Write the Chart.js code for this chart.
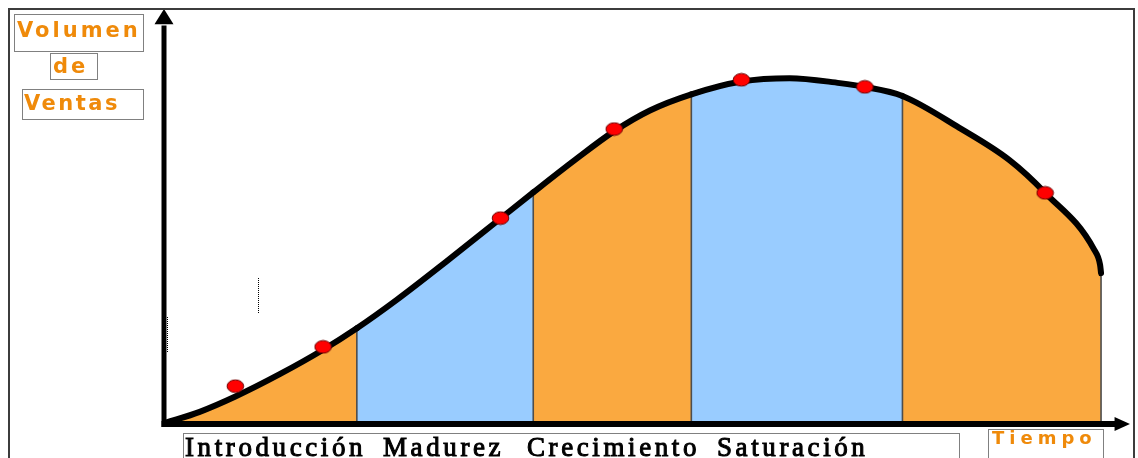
<!DOCTYPE html>
<html>
<head>
<meta charset="utf-8">
<script src="https://cdn.jsdelivr.net/npm/chart.js@4/dist/chart.umd.min.js"></script>
<style>
  html, body { margin: 0; padding: 0; background: #fff; }
  canvas { display: block; }
</style>
</head>
<body>
<canvas id="ciclo" width="1138" height="458"></canvas>
<script>
// Product life-cycle curve: sales volume over time (0-100 on both axes)
const tiempo  = [0, 3.6, 7.3, 11.9, 16.4, 19.9, 24.0, 29.5, 34.8, 38.2, 42.5, 46.6, 50.3, 54.6,
                 59.8, 64.8, 70.0, 72.6, 76.5, 82.4, 87.6, 91.3, 96.4, 97.0, 97.1];
const volumen = [0, 2.7, 6.4, 11.8, 17.7, 22.9, 29.7, 39.6, 49.4, 55.7, 63.5, 70.5, 75.5, 79.4,
                 82.5, 83.3, 82.1, 81.2, 79.0, 71.3, 63.5, 55.6, 41.8, 38.2, 36.2];

// Marked observations along the curve
const puntosTiempo  = [7.3, 16.4, 34.8, 46.6, 59.8, 72.6, 91.3];
const puntosVolumen = [8.9, 18.4, 49.5, 71.0, 82.9, 81.2, 55.6];

// Stage boundaries on the time axis and their fill colours
const limitesEtapas = [0, 19.9, 38.2, 54.6, 76.5, 97.1];
const coloresEtapas = ['#FAA940', '#99CCFF', '#FAA940', '#99CCFF', '#FAA940'];

// Stage names written under the time axis
const etapas = ['Introducción', 'Madurez', 'Crecimiento', 'Saturación'];
const etapasX = [185, 383, 527, 717];

const ejeY = ['Volumen', 'de', 'Ventas'];
const ejeX = 'Tiempo';

function colorEtapa(x) {
  for (let i = 0; i < coloresEtapas.length; i++) {
    if (x >= limitesEtapas[i] - 1e-6 && x < limitesEtapas[i + 1] - 1e-6) return coloresEtapas[i];
  }
  return coloresEtapas[coloresEtapas.length - 1];
}

// Red oval marker
const marcador = document.createElement('canvas');
marcador.width = 19; marcador.height = 15;
(function () {
  const g = marcador.getContext('2d');
  g.beginPath();
  g.ellipse(9.5, 7.5, 8.3, 6.3, 0, 0, Math.PI * 2);
  g.fillStyle = '#FF0000';
  g.fill();
  g.lineWidth = 1;
  g.strokeStyle = '#6a0000';
  g.stroke();
})();

function cajaPunteada(ctx, x, y, w, h) {
  ctx.save();
  ctx.strokeStyle = '#000';
  ctx.lineWidth = 1;
  ctx.setLineDash([1, 1]);
  ctx.strokeRect(x + 0.5, y + 0.5, w, h);
  ctx.restore();
}

function lineaPunteada(ctx, x, y1, y2) {
  ctx.save();
  ctx.strokeStyle = '#000';
  ctx.lineWidth = 1;
  ctx.setLineDash([1, 1]);
  ctx.beginPath();
  ctx.moveTo(x + 0.5, y1);
  ctx.lineTo(x + 0.5, y2);
  ctx.stroke();
  ctx.restore();
}

const decoracion = {
  id: 'decoracion',
  beforeDatasetDraw(chart, args) {
    if (args.index !== 0) return;
    // thin separators between stages, from the curve down to the time axis
    const ctx = chart.ctx;
    const meta = chart.getDatasetMeta(0);
    const base = chart.scales.y.getPixelForValue(0);
    ctx.save();
    ctx.strokeStyle = '#4d4d4d';
    ctx.lineWidth = 1.6;
    limitesEtapas.slice(1).forEach(lim => {
      const i = tiempo.indexOf(lim);
      if (i < 0) return;
      const p = meta.data[i];
      ctx.beginPath();
      ctx.moveTo(p.x, p.y);
      ctx.lineTo(p.x, base);
      ctx.stroke();
    });
    ctx.restore();
  },
  afterDatasetsDraw(chart) {
    const ctx = chart.ctx;
    const xs = chart.scales.x, ys = chart.scales.y;
    const x0 = xs.getPixelForValue(0) - 1;
    const y0 = ys.getPixelForValue(0) + 1;
    ctx.save();
    ctx.fillStyle = '#000';
    ctx.strokeStyle = '#000';
    ctx.lineCap = 'butt';
    // vertical axis with arrow
    ctx.lineWidth = 5;
    ctx.beginPath();
    ctx.moveTo(x0, y0 + 3);
    ctx.lineTo(x0, ys.getPixelForValue(96));
    ctx.stroke();
    ctx.beginPath();
    ctx.moveTo(x0, ys.getPixelForValue(100));
    ctx.lineTo(x0 + 9.5, ys.getPixelForValue(96.3));
    ctx.lineTo(x0 - 9.5, ys.getPixelForValue(96.3));
    ctx.closePath();
    ctx.fill();
    // horizontal axis with arrow
    ctx.lineWidth = 6;
    ctx.beginPath();
    ctx.moveTo(x0 - 2.5, y0);
    ctx.lineTo(xs.getPixelForValue(98.8), y0);
    ctx.stroke();
    ctx.beginPath();
    ctx.moveTo(xs.getPixelForValue(100.1), y0);
    ctx.lineTo(xs.getPixelForValue(98.5), y0 - 7);
    ctx.lineTo(xs.getPixelForValue(98.5), y0 + 7);
    ctx.closePath();
    ctx.fill();
    ctx.restore();
  },
  afterDraw(chart) {
    const ctx = chart.ctx;
    ctx.save();
    // frame
    ctx.strokeStyle = '#3c3c3c';
    ctx.lineWidth = 2;
    ctx.beginPath();
    ctx.moveTo(9, 470);
    ctx.lineTo(9, 9);
    ctx.lineTo(1134, 9);
    ctx.lineTo(1134, 470);
    ctx.stroke();

    // axis labels
    ctx.fillStyle = '#EF8A0A';
    ctx.textBaseline = 'alphabetic';
    ctx.textAlign = 'left';
    ctx.font = 'bold 21px "DejaVu Sans"';
    ctx.letterSpacing = '3px';
    ctx.fillText(ejeY[0], 17, 37);
    ctx.fillText(ejeY[1], 53, 73);
    ctx.letterSpacing = '2.5px';
    ctx.fillText(ejeY[2], 24, 110);
    ctx.font = 'bold 18px "DejaVu Sans"';
    ctx.letterSpacing = '5px';
    ctx.fillText(ejeX, 992, 444);

    cajaPunteada(ctx, 14, 14, 129, 37);
    cajaPunteada(ctx, 50, 53, 47, 26);
    cajaPunteada(ctx, 22, 89, 121, 30);
    cajaPunteada(ctx, 988, 429, 115, 40);
    cajaPunteada(ctx, 183, 433, 776, 40);

    lineaPunteada(ctx, 258, 278, 313);
    lineaPunteada(ctx, 167, 317, 352);

    // stage names
    ctx.fillStyle = '#000';
    ctx.strokeStyle = '#000';
    ctx.lineWidth = 1;
    ctx.font = '27px "Liberation Serif"';
    ctx.letterSpacing = '3.6px';
    etapas.forEach((t, i) => {
      ctx.fillText(t, etapasX[i], 456);
      ctx.strokeText(t, etapasX[i], 456);
    });
    ctx.restore();
  }
};

new Chart(document.getElementById('ciclo'), {
  type: 'line',
  data: {
    datasets: [
      {
        label: 'Volumen de ventas',
        data: tiempo.map((t, i) => ({ x: t, y: volumen[i] })),
        borderColor: '#000',
        borderWidth: 6,
        borderCapStyle: 'round',
        borderJoinStyle: 'round',
        cubicInterpolationMode: 'monotone',
        fill: 'origin',
        backgroundColor: coloresEtapas[0],
        segment: { backgroundColor: c => colorEtapa(c.p0.parsed.x) },
        pointRadius: 0,
        order: 2
      },
      {
        label: 'Observaciones',
        data: puntosTiempo.map((t, i) => ({ x: t, y: puntosVolumen[i] })),
        showLine: false,
        pointStyle: marcador,
        pointRadius: 8,
        order: 1
      }
    ]
  },
  options: {
    responsive: false,
    devicePixelRatio: 1,
    animation: false,
    events: [],
    layout: { padding: { left: 165, right: 8, top: 9, bottom: 35 } },
    scales: {
      x: { type: 'linear', min: 0, max: 100, display: false },
      y: { type: 'linear', min: 0, max: 100, display: false }
    },
    plugins: {
      legend: { display: false },
      tooltip: { enabled: false }
    }
  },
  plugins: [decoracion]
});
</script>
</body>
</html>
